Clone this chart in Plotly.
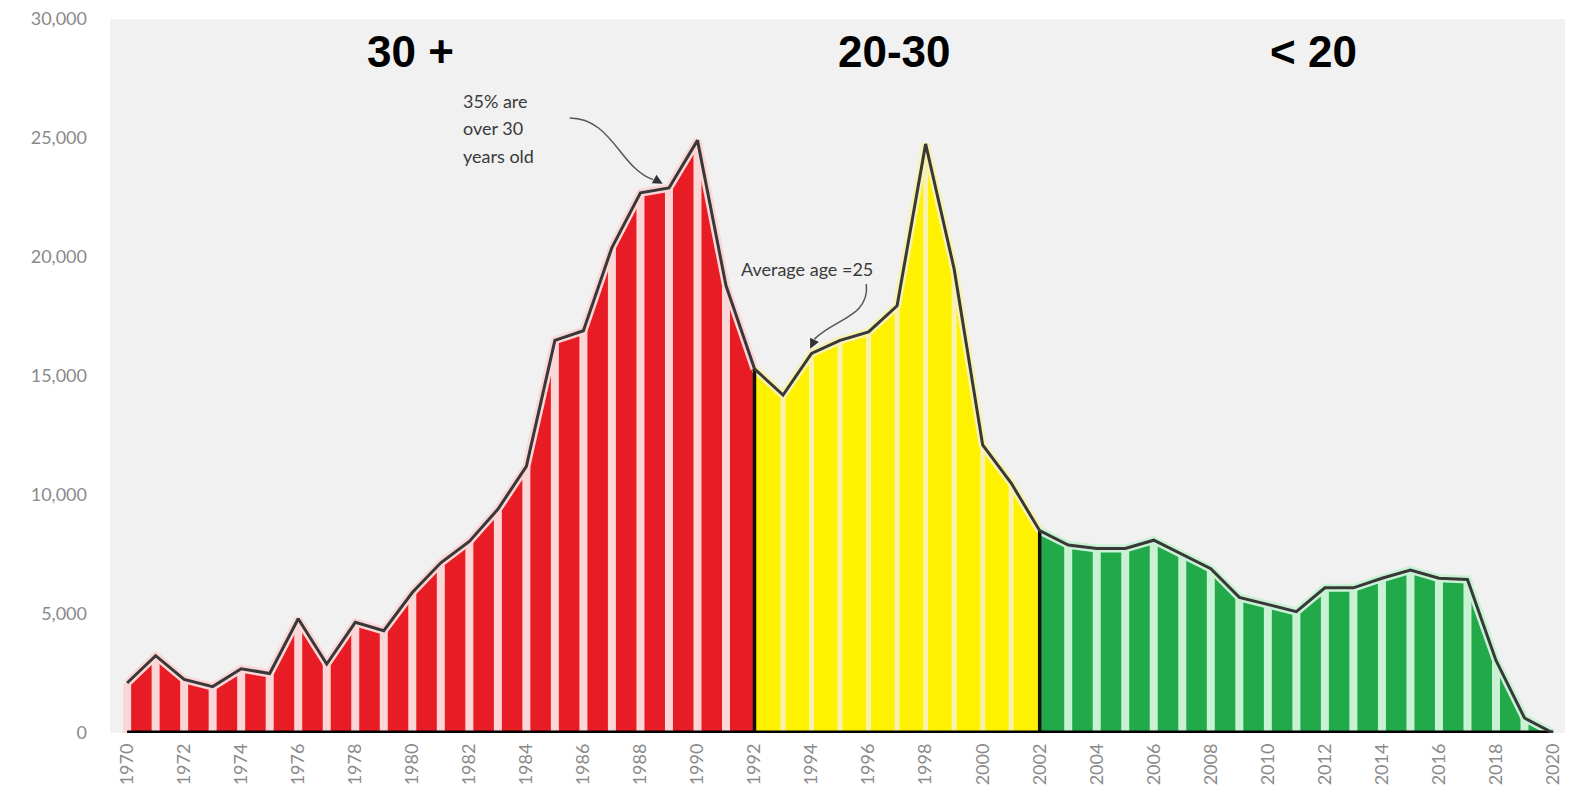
import plotly.graph_objects as go

# ---------------- data ----------------
years = list(range(1970, 2021))
values = [2100, 3250, 2250, 1950, 2700, 2500, 4800, 2900, 4650, 4300,
          5900, 7150, 8050, 9400, 11200, 16500, 16900, 20400, 22700, 22900,
          24900, 18800, 15300, 14200, 15950, 16500, 16850, 17950, 24750, 19500,
          12100, 10500, 8500, 7900, 7750, 7750, 8100, 7500, 6900, 5700,
          5400, 5100, 6100, 6100, 6500, 6850, 6500, 6450, 3050, 630,
          0]
segment_bounds = [1970, 1992, 2002, 2020]
segment_labels = ["30 +", "20-30", "< 20"]
segment_label_x = [1979.95, 1996.9, 2011.6]
fill_colors = ["#e81c24", "#fff200", "#22a94a"]
stripe_colors = ["#fbd6d6", "#f8f2b0", "#c9f2d4"]
stripe_widths = [8, 5, 8]
y_ticks = [0, 5000, 10000, 15000, 20000, 25000, 30000]
x_ticks = list(range(1970, 2021, 2))

LINE = "#383838"
fig = go.Figure()

val = dict(zip(years, values))

for i in range(3):
    a, b = segment_bounds[i], segment_bounds[i + 1]
    xs = [y for y in years if a <= y <= b]
    ys = [val[y] for y in xs]
    # filled area
    fig.add_trace(go.Scatter(x=xs, y=ys, mode="lines", fill="tozeroy",
                             fillcolor=fill_colors[i], line=dict(width=0),
                             hoverinfo="skip", showlegend=False))
    # light stripes at each year point
    sx, sy = [], []
    for y in xs:
        if y in (1992, 2002) or val[y] <= 0:
            continue
        sx += [y, y, None]
        sy += [0, val[y], None]
    fig.add_trace(go.Scatter(x=sx, y=sy, mode="lines",
                             line=dict(color=stripe_colors[i], width=stripe_widths[i]),
                             hoverinfo="skip", showlegend=False))
    # light halo under the outline
    fig.add_trace(go.Scatter(x=xs, y=ys, mode="lines",
                             line=dict(color=stripe_colors[i], width=8),
                             hoverinfo="skip", showlegend=False))

# black boundaries between segments
for yb in (1992, 2002):
    fig.add_trace(go.Scatter(x=[yb, yb], y=[0, val[yb]], mode="lines",
                             line=dict(color="#111111", width=3.5),
                             hoverinfo="skip", showlegend=False))

# baseline
fig.add_trace(go.Scatter(x=[1970, 2020], y=[0, 0], mode="lines",
                         line=dict(color="#000000", width=5),
                         hoverinfo="skip", showlegend=False))

# outline
fig.add_trace(go.Scatter(x=years, y=values, mode="lines",
                         line=dict(color=LINE, width=3),
                         showlegend=False))

# segment labels
for lbl, lx in zip(segment_labels, segment_label_x):
    fig.add_annotation(x=lx, y=28650, text=f"<b>{lbl}</b>", showarrow=False,
                       font=dict(family="Liberation Sans, Arial", size=44, color="#000000"),
                       xanchor="center", yanchor="middle")

# small notes
note_font = dict(family="Lato, Open Sans", size=18, color="#3a3a3a")
for k, t in enumerate(["35% are", "over 30", "years old"]):
    fig.add_annotation(x=1981.7, y=26560 - k * 1150, text=t, showarrow=False,
                       font=note_font, xanchor="left", yanchor="middle")
fig.add_annotation(x=1991.45, y=19500, text="Average age =25", showarrow=False,
                   font=note_font, xanchor="left", yanchor="middle")

# curved arrows
fig.add_shape(type="path", xref="x", yref="y",
              path="M 1985.52 25840 C 1987.0 25840, 1987.3 23700, 1988.45 23250",
              line=dict(color="#555555", width=1.5))
fig.add_annotation(x=1988.78, y=23080, ax=-9, ay=-5, text="", showarrow=True,
                   arrowhead=2, arrowsize=1.3, arrowwidth=1.5, arrowcolor="#333333")
fig.add_shape(type="path", xref="x", yref="y",
              path="M 1995.92 18860 C 1996.05 17500, 1994.8 17400, 1994.1 16550",
              line=dict(color="#555555", width=1.5))
fig.add_annotation(x=1993.95, y=16150, ax=5, ay=-10, text="", showarrow=True,
                   arrowhead=2, arrowsize=1.3, arrowwidth=1.5, arrowcolor="#333333")

fig.update_layout(
    width=1572, height=808, autosize=False,
    margin=dict(l=110, r=7, t=19, b=75),
    paper_bgcolor="#ffffff", plot_bgcolor="#f1f1f1",
    font=dict(family="Lato, Open Sans", color="#8a8a8a"),
    showlegend=False,
)
fig.update_xaxes(range=[1969.4, 2020.42], tickmode="array", tickvals=x_ticks,
                 ticktext=[str(x) for x in x_ticks], tickangle=-90,
                 tickfont=dict(size=18, color="#8a8a8a"), showgrid=False,
                 zeroline=False, showline=False, ticks="", ticklabelstandoff=6)
fig.update_yaxes(range=[0, 30000], tickmode="array", tickvals=y_ticks,
                 ticktext=[f"{v:,}" for v in y_ticks],
                 tickfont=dict(size=18, color="#8a8a8a"), showgrid=False,
                 zeroline=False, showline=False, ticks="", ticklabelstandoff=22)

fig.write_html("out.html", config={"displayModeBar": False},
               post_script="document.body.style.margin='0';")
